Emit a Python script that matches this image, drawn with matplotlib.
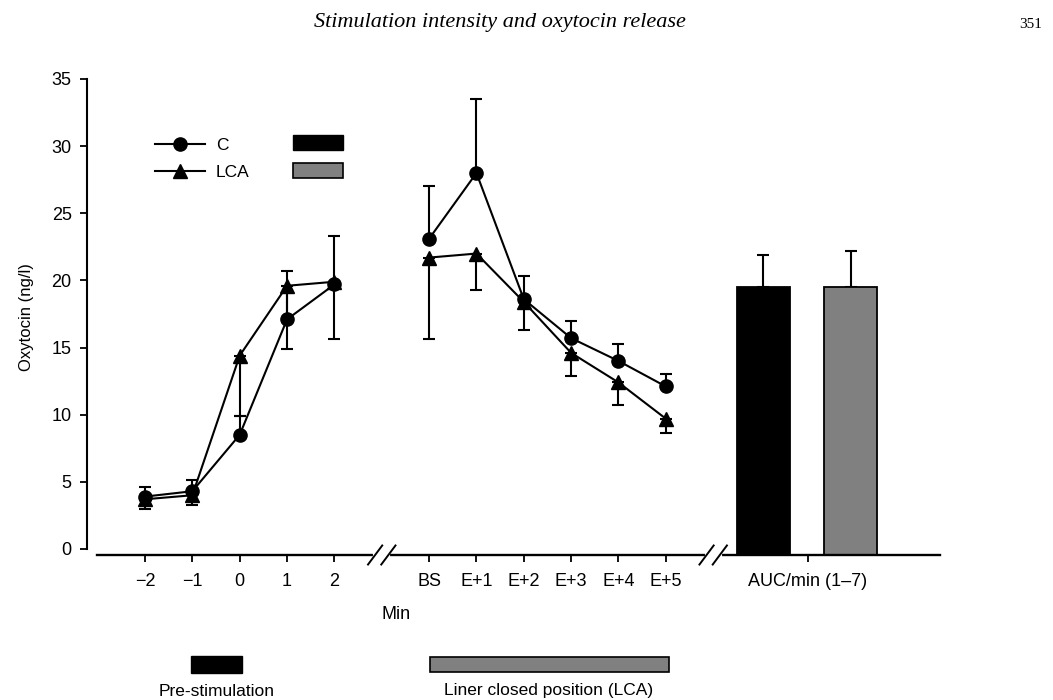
import matplotlib.pyplot as plt
from matplotlib.patches import Rectangle
from matplotlib.lines import Line2D
import matplotlib.transforms as mtransforms

plt.rcParams['font.family'] = ['Liberation Sans', 'DejaVu Sans']

# x positions: pre-stimulation minutes, then stimulation phase, then AUC
pre_labels = ['\u22122', '\u22121', '0', '1', '2']
post_labels = ['BS', 'E+1', 'E+2', 'E+3', 'E+4', 'E+5']
pre_x = [0, 1, 2, 3, 4]
post_x = [6, 7, 8, 9, 10, 11]
auc_label = 'AUC/min (1\u20137)'
auc_x = 14

# Oxytocin (ng/l), C = control, error bars drawn upward
c_pre = [3.9, 4.3, 8.5, 17.1, 19.7]
c_pre_err = [0.7, 0.8, 1.4, 3.6, 3.6]
c_post = [23.1, 28.0, 18.6, 15.7, 14.0, 12.1]
c_post_err = [3.9, 5.5, 1.7, 1.3, 1.3, 0.9]

# LCA = liner closed position, error bars drawn downward
lca_pre = [3.7, 4.0, 14.4, 19.6, 19.9]
lca_pre_err = [0.7, 0.7, 4.5, 4.7, 4.3]
lca_post = [21.7, 22.0, 18.4, 14.6, 12.4, 9.7]
lca_post_err = [6.1, 2.7, 2.1, 1.7, 1.7, 1.1]

# AUC per minute (1-7)
auc_vals = [19.5, 19.5]
auc_err = [2.4, 2.7]
auc_pos = [13.06, 14.9]
auc_colors = ['black', '#808080']

y_floor = -0.45

fig = plt.figure(figsize=(10.53, 7), dpi=100)
ax = fig.add_axes([87 / 1053, 145 / 700, 853 / 1053, 476 / 700])

lw = 1.5
cap = 4.5
for xs, ys, es in [(pre_x, c_pre, c_pre_err), (post_x, c_post, c_post_err)]:
    ax.errorbar(xs, ys, yerr=[[0] * len(es), es], color='black', lw=lw,
                marker='o', ms=9.5, capsize=cap, capthick=lw, elinewidth=lw,
                clip_on=False, zorder=3)
for xs, ys, es in [(pre_x, lca_pre, lca_pre_err), (post_x, lca_post, lca_post_err)]:
    ax.errorbar(xs, ys, yerr=[es, [0] * len(es)], color='black', lw=lw,
                marker='^', ms=9.5, capsize=cap, capthick=lw, elinewidth=lw,
                clip_on=False, zorder=3)

ax.bar(auc_pos, [v - y_floor for v in auc_vals], bottom=y_floor, width=1.12,
       color=auc_colors, edgecolor='black', linewidth=1.3, zorder=2)
ax.errorbar(auc_pos, auc_vals, yerr=[[0, 0], auc_err], fmt='none',
            ecolor='black', elinewidth=lw, capsize=cap, capthick=lw, zorder=1)

ax.set_xlim(-1.225, 16.79)
ax.set_ylim(y_floor, 35)
ax.set_yticks(range(0, 36, 5))
ax.set_xticks(pre_x + post_x + [auc_x])
ax.set_xticklabels(pre_labels + post_labels + [auc_label])
ax.tick_params(axis='both', direction='out', length=5, width=1.3,
               labelsize=13, colors='black')
ax.tick_params(axis='x', pad=8)
ax.tick_params(axis='y', pad=6, labelsize=13)

for s in ['top', 'right']:
    ax.spines[s].set_visible(False)
ax.spines['left'].set_bounds(0, 35)
ax.spines['bottom'].set_bounds(-1.01, 16.79)
ax.spines['left'].set_linewidth(1.5)
ax.spines['bottom'].set_linewidth(1.7)

ax.set_ylabel('Oxytocin (ng/l)', fontsize=12, labelpad=13)
ax.set_xlabel('Min', fontsize=13)
ax.xaxis.set_label_coords((396 - 87) / 853, -0.108)

# axis breaks
blend = mtransforms.blended_transform_factory(ax.transData, ax.transAxes)
for bx in [5.0, 12.0]:
    ax.plot([bx - 0.14, bx + 0.14], [0, 0], color='white', lw=3,
            transform=blend, clip_on=False, zorder=4)
    for dx in [-0.14, 0.14]:
        ax.plot([bx + dx - 0.15, bx + dx + 0.15], [-0.02, 0.02],
                color='black', lw=1.4, transform=blend, clip_on=False, zorder=5)

# legend
handles = [Line2D([], [], color='black', lw=lw, marker='o', ms=9.5),
           Line2D([], [], color='black', lw=lw, marker='^', ms=9.5)]
ax.legend(handles, ['C', 'LCA'], loc='upper left',
          bbox_to_anchor=(0.0797, 0.876), frameon=False, fontsize=12.5,
          handlelength=2.9, handletextpad=0.6, labelspacing=0.7,
          borderpad=0, borderaxespad=0)
ax.add_patch(Rectangle((0.2415, 0.851), 0.0586, 0.0315, facecolor='black',
                       edgecolor='black', transform=ax.transAxes, clip_on=False))
ax.add_patch(Rectangle((0.2415, 0.792), 0.0586, 0.0315, facecolor='#808080',
                       edgecolor='black', lw=1.2, transform=ax.transAxes, clip_on=False))

# bottom key
fig.patches.append(Rectangle((191 / 1053, 27 / 700), 51 / 1053, 17 / 700,
                             facecolor='black', edgecolor='black',
                             transform=fig.transFigure))
fig.patches.append(Rectangle((430 / 1053, 28 / 700), 239 / 1053, 15 / 700,
                             facecolor='#808080', edgecolor='black', lw=1.2,
                             transform=fig.transFigure))
fig.text(217 / 1053, 9 / 700, 'Pre-stimulation', ha='center', va='center',
         fontsize=12.5)
fig.text(549 / 1053, 9 / 700, 'Liner closed position (LCA)', ha='center',
         va='center', fontsize=12.5)

fig.text(500 / 1053, 678 / 700, 'Stimulation intensity and oxytocin release',
         ha='center', va='center', fontsize=16, style='italic',
         family='Liberation Serif')
fig.text(1031 / 1053, 676 / 700, '351', ha='center', va='center',
         fontsize=11, family='Liberation Serif')

fig.savefig('out.png', dpi=100)
